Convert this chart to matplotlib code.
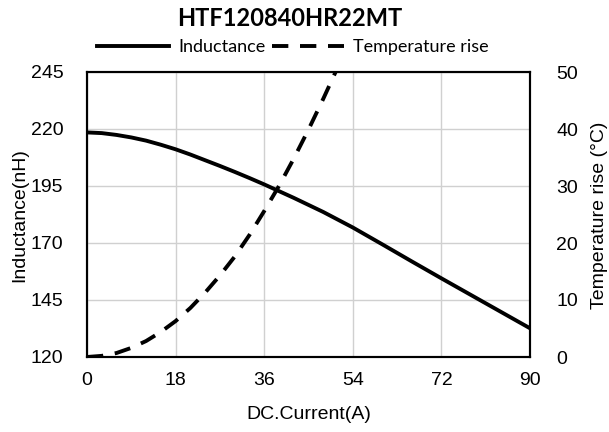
import matplotlib
matplotlib.use('Agg')
import matplotlib.pyplot as plt

# Inductance vs DC current
current_l = [0, 3, 6, 9, 12, 15, 18, 21, 24, 27, 30, 33, 36, 42, 48, 54, 60, 66, 72, 78, 84, 90]
inductance = [218.5, 218.2, 217.4, 216.3, 214.9, 213.1, 211.1, 208.8, 206.3, 203.8, 201.2,
              198.5, 195.7, 189.8, 183.6, 176.8, 169.4, 161.9, 154.5, 147.2, 139.9, 132.6]

# Temperature rise vs DC current
current_t = [0, 3, 6, 9, 12, 15, 18, 21, 24, 27, 30, 33, 36, 39, 42, 45, 48, 50.5]
temp_rise = [0, 0.2, 0.7, 1.6, 2.8, 4.4, 6.3, 8.6, 11.3, 14.3, 17.6, 21.4, 25.6, 30, 34.8, 39.9, 45.3, 50]

x_ticks = [0, 18, 36, 54, 72, 90]
l_ticks = [120, 145, 170, 195, 220, 245]
t_ticks = [0, 10, 20, 30, 40, 50]

W, H = 609, 432
fig = plt.figure(figsize=(W / 100, H / 100), dpi=100)
ax = fig.add_axes([87 / W, (H - 357) / H, 443 / W, 285 / H])
ax2 = ax.twinx()

tick_font = dict(family='Liberation Sans', size=14)

l1, = ax.plot(current_l, inductance, color='black', lw=2.8, label='Inductance', zorder=3)
l2, = ax2.plot(current_t, temp_rise, color='black', lw=2.8, dashes=(4.2, 3.0),
               label='Temperature rise', zorder=3)

ax.set_xlim(0, 90)
ax.set_ylim(120, 245)
ax2.set_ylim(0, 50)
ax.set_xticks(x_ticks)
ax.set_yticks(l_ticks)
ax2.set_yticks(t_ticks)
ax.grid(True, color='#d0d0d0', lw=1)
ax.set_axisbelow(True)

for a in (ax, ax2):
    for s in a.spines.values():
        s.set_color('black')
        s.set_linewidth(1.5)
ax.tick_params(axis='x', length=0, pad=11)
ax.tick_params(axis='y', length=0, pad=17)
ax2.tick_params(axis='y', length=0, pad=19)
for lab in ax.get_xticklabels() + ax.get_yticklabels() + ax2.get_yticklabels():
    lab.set_fontfamily('Liberation Sans')
    lab.set_fontsize(14)

ax.set_xlabel('DC.Current(A)', fontdict=tick_font, labelpad=12)
fig.text(20 / W, 1 - 215 / H, 'Inductance(nH)', rotation=90, ha='center', va='center', **tick_font)
fig.text(600 / W, 1 - 215 / H, 'Temperature rise (°C)', rotation=90, ha='center', va='center', **tick_font)

fig.text(290 / W, 1 - 19 / H, 'HTF120840HR22MT', ha='center', va='center',
         family='Lato', weight='bold', size=17)

fig.legend(handles=[l1, l2], loc='center', bbox_to_anchor=(293 / W, 1 - 47 / H), ncol=2,
           frameon=False, prop=dict(family='Lato', size=13), handlelength=4.0,
           handletextpad=0.5, columnspacing=0.35, borderaxespad=0)

fig.savefig('out.png', dpi=100)
